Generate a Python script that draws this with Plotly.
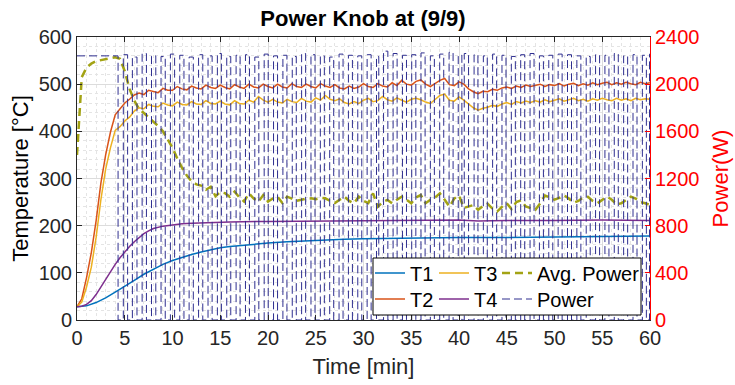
import plotly.graph_objects as go

# ---------------- data ----------------
STEP = 0.5  # min, sampling of T2 / T3 / Avg. Power
T2 = [28, 45, 90, 143, 210, 290, 350, 398, 435, 447,
      460, 468, 477, 481, 478, 487, 484, 482, 491, 487,
      487, 495, 490, 488, 496, 492, 490, 498, 493, 491,
      498, 493, 490, 499, 494, 491, 500, 494, 492, 500,
      495, 492, 500, 494, 492, 501, 495, 493, 500, 495,
      492, 501, 496, 493, 499, 492, 490, 496, 491, 494,
      501, 495, 493, 501, 496, 494, 503, 497, 508, 500,
      498, 506, 509, 500, 495, 501, 508, 512, 499, 497,
      505, 500, 490, 484, 480, 485, 484, 489, 487, 492,
      494, 491, 496, 493, 498, 495, 497, 500, 495, 499,
      497, 501, 496, 500, 502, 497, 501, 498, 503, 499,
      502, 504, 499, 503, 500, 504, 501, 499, 504, 501,
      503]
T3 = [28, 38, 70, 112, 175, 255, 320, 365, 402, 410,
      422, 430, 443, 450, 448, 457, 453, 452, 460, 456,
      454, 462, 457, 456, 463, 458, 457, 465, 459, 458,
      464, 458, 456, 465, 459, 458, 466, 462, 474, 466,
      462, 468, 462, 460, 468, 463, 461, 470, 464, 462,
      471, 466, 476, 468, 465, 469, 461, 458, 463, 459,
      466, 470, 463, 465, 474, 467, 464, 471, 466, 462,
      468, 470, 467, 462, 459, 468, 476, 479, 466, 464,
      473, 466, 457, 450, 445, 449, 451, 455, 453, 458,
      461, 457, 463, 460, 464, 461, 465, 462, 467, 463,
      466, 469, 464, 467, 470, 465, 468, 464, 469, 466,
      470, 467, 465, 470, 466, 469, 465, 470, 467, 469,
      468]
AVG_POWER = [1400, 2060, 2140, 2175, 2195, 2205, 2212, 2220, 2228, 2215,
             2110, 1960, 1860, 1790, 1755, 1720, 1685, 1645, 1600, 1530,
             1460, 1370, 1290, 1225, 1175, 1150, 1140, 1105, 1130, 1050,
             1085, 1075, 1045, 1088, 1040, 1005, 1074, 1030, 1003, 1060,
             1005, 1030, 1046, 992, 1046, 1030, 1010, 1020, 1030, 1032,
             1025, 1035, 1032, 1010, 992, 1020, 1046, 1010, 990, 1046,
             1010, 992, 1074, 961, 1000, 1018, 990, 1020, 1046, 1020,
             990, 1040, 1060, 990, 1020, 1040, 1074, 1020, 961, 1030,
             1055, 950, 965, 975, 935, 965, 985, 945, 920, 960,
             990, 940, 1000, 1015, 962, 950, 935, 990, 1055, 1040,
             1020, 1035, 1058, 1030, 995, 1010, 1040, 1045, 1010, 990,
             1015, 1046, 1020, 980, 990, 1020, 1046, 1030, 1000, 990,
             975]

T1_TIME = [0, 1, 2, 3, 4, 5, 6, 7, 8, 9, 10, 11, 12, 13, 14, 15, 16, 17, 18, 19,
           20, 22, 24, 26, 28, 30, 33, 36, 40, 45, 50, 55, 60]
T1 = [28, 30, 37, 47, 59, 71, 84, 97, 108, 118, 126, 133, 139, 144, 149, 153, 156, 158, 160, 162,
      163, 166, 168, 170, 171, 172, 173, 174, 175, 175, 176, 177, 178]

T4_TIME = [0, 0.5, 1, 1.5, 2, 2.5, 3, 3.5, 4, 4.5, 5, 5.5, 6, 6.5, 7, 7.5, 8, 9, 10, 11,
           12, 14, 16, 20, 25, 30, 35, 40, 42, 45, 50, 55, 60]
T4 = [28, 29, 33, 41, 54, 70, 88, 104, 118, 132, 145, 156, 166, 175, 183, 189, 194, 199, 202, 204,
      205, 207, 208, 209, 210, 211, 212, 212, 210, 211, 211, 212, 211]

# on/off switching of the heater power (min) and the "on" level of each cycle (W)
POWER_START_LEVEL = 2240
POWER_OFF_TIMES = [4.30, 5.30, 6.28, 7.27, 8.25, 9.24, 10.22, 11.20, 12.18, 13.17,
                   14.15, 15.12, 16.10, 17.08, 18.06, 19.04, 20.02, 21.00, 21.98, 22.96,
                   23.94, 24.92, 25.90, 26.88, 27.86, 28.84, 29.82, 30.80, 31.60, 32.55,
                   33.52, 34.50, 35.48, 36.45, 37.42, 38.40, 39.38, 40.30, 41.00, 41.98,
                   42.96, 43.94, 44.92, 45.90, 46.88, 47.86, 48.84, 49.82, 50.80, 51.78,
                   52.76, 53.74, 54.72, 55.70, 56.68, 57.66, 58.64, 59.62]
POWER_ON_TIMES = [4.85, 5.80, 6.82, 7.80, 8.80, 9.78, 10.76, 11.74, 12.73, 13.72,
                  14.70, 15.68, 16.66, 17.64, 18.62, 19.60, 20.58, 21.56, 22.54, 23.52,
                  24.50, 25.48, 26.46, 27.44, 28.42, 29.40, 30.38, 31.36, 32.10, 33.10,
                  34.08, 35.05, 36.02, 37.00, 37.98, 38.96, 39.92, 40.55, 41.58, 42.55,
                  43.52, 44.50, 45.48, 46.46, 47.44, 48.42, 49.40, 50.38, 51.36, 52.34,
                  53.32, 54.30, 55.28, 56.26, 57.24, 58.22, 59.20, 59.95]
POWER_ON_LEVELS = [2250, 2230, 2260, 2240, 2235, 2255, 2245, 2230, 2250, 2240,
                   2260, 2235, 2245, 2250, 2230, 2255, 2240, 2245, 2235, 2260,
                   2250, 2240, 2230, 2255, 2245, 2240, 2250, 2235, 2280, 2260,
                   2245, 2250, 2265, 2240, 2255, 2270, 2245, 2260, 2250, 2240,
                   2255, 2245, 2235, 2250, 2260, 2240, 2245, 2255, 2250, 2240,
                   2235, 2250, 2245, 2260, 2240, 2250, 2245, 2255]
T_END = 60

X_TICKS = list(range(0, 61, 5))
Y_TICKS = list(range(0, 601, 100))
Y2_TICKS = list(range(0, 2401, 400))

# ---------------- derived tables ----------------
t_half = [i * STEP for i in range(len(T2))]

p_x, p_y = [0], [POWER_START_LEVEL]
level = POWER_START_LEVEL
for t_off, t_on, lv in zip(POWER_OFF_TIMES, POWER_ON_TIMES, POWER_ON_LEVELS):
    p_x += [t_off, t_off]
    p_y += [level, 0]
    level = lv
    p_x += [t_on, t_on]
    p_y += [0, level]
p_x.append(T_END)
p_y.append(level)

# ---------------- figure ----------------
FONT = "Liberation Sans, Arial, Helvetica, sans-serif"
DARK = "#262626"
RED = "#FF0000"

fig = go.Figure()
fig.add_trace(go.Scatter(x=T1_TIME, y=T1, name="T1", mode="lines",
                         line=dict(color="#0072BD", width=1.5), legend="legend"))
fig.add_trace(go.Scatter(x=t_half, y=T2, name="T2", mode="lines",
                         line=dict(color="#D95319", width=1.5), legend="legend2"))
fig.add_trace(go.Scatter(x=t_half, y=T3, name="T3", mode="lines",
                         line=dict(color="#EDB120", width=1.5), legend="legend3"))
fig.add_trace(go.Scatter(x=T4_TIME, y=T4, name="T4", mode="lines",
                         line=dict(color="#7E2F8E", width=1.5), legend="legend4"))
fig.add_trace(go.Scatter(x=t_half, y=AVG_POWER, name="Avg. Power", mode="lines", yaxis="y2",
                         line=dict(color="#A3A314", width=2.5, dash="8px,5px"), legend="legend5"))
fig.add_trace(go.Scatter(x=p_x, y=p_y, name="Power", mode="lines", yaxis="y2",
                         line=dict(color="#2E2E8F", width=1, dash="8px,4px"), legend="legend6"))

PL, PR, PT, PB = 77, 85, 37, 65
W, H = 735, 385
pw, ph = W - PL - PR, H - PT - PB


def px2x(px):
    return (px - PL) / pw


def py2y(py):
    return (H - PB - py) / ph


leg_common = dict(bgcolor="rgba(0,0,0,0)", borderwidth=0, xanchor="left", yanchor="middle",
                  font=dict(family=FONT, size=20, color="#000000"), itemwidth=30,
                  itemclick=False, itemdoubleclick=False)
col_x = [370, 434, 497]
row_y = [273, 299]
fig.update_layout(
    legend=dict(x=px2x(col_x[0]), y=py2y(row_y[0]), **leg_common),
    legend2=dict(x=px2x(col_x[0]), y=py2y(row_y[1]), **leg_common),
    legend3=dict(x=px2x(col_x[1]), y=py2y(row_y[0]), **leg_common),
    legend4=dict(x=px2x(col_x[1]), y=py2y(row_y[1]), **leg_common),
    legend5=dict(x=px2x(col_x[2]), y=py2y(row_y[0]), **leg_common),
    legend6=dict(x=px2x(col_x[2]), y=py2y(row_y[1]), **leg_common),
)

fig.add_shape(type="rect", xref="paper", yref="paper",
              x0=px2x(373), x1=px2x(641), y0=py2y(315), y1=py2y(258),
              fillcolor="white", line=dict(color="#000000", width=1), layer="above")

fig.update_layout(
    width=W, height=H,
    margin=dict(l=PL, r=PR, t=PT, b=PB, autoexpand=False),
    paper_bgcolor="white", plot_bgcolor="white",
    font=dict(family=FONT, color=DARK, size=20),
    showlegend=True,
    title=dict(text="<b>Power Knob at (9/9)</b>", x=363 / W, xanchor="center",
               y=1 - 18 / H, yanchor="middle",
               font=dict(family=FONT, size=22, color="#000000")),
    xaxis=dict(range=[0, 60], tickvals=X_TICKS, ticktext=[str(v) for v in X_TICKS],
               showline=True, linecolor=DARK, linewidth=1, mirror="ticks",
               ticks="inside", ticklen=5, tickcolor=DARK,
               showgrid=True, gridcolor="#dcdcdc", gridwidth=1, zeroline=False,
               minor=dict(dtick=1, showgrid=True, gridcolor="#e4e4e4", griddash="dot", ticks=""),
               tickfont=dict(size=20, color=DARK),
               title=dict(text="Time [min]", font=dict(size=22, color=DARK), standoff=10)),
    yaxis=dict(range=[0, 600], tickvals=Y_TICKS, ticktext=[str(v) for v in Y_TICKS],
               showline=True, linecolor=DARK, linewidth=1,
               ticks="inside", ticklen=5, tickcolor=DARK,
               showgrid=True, gridcolor="#dcdcdc", gridwidth=1, zeroline=False,
               minor=dict(dtick=20, showgrid=True, gridcolor="#e4e4e4", griddash="dot", ticks=""),
               tickfont=dict(size=20, color=DARK),
               title=dict(text="Temperature [°C]", font=dict(size=22, color="#000000"), standoff=3)),
    yaxis2=dict(range=[0, 2400], tickvals=Y2_TICKS, ticktext=[str(v) for v in Y2_TICKS],
                overlaying="y", side="right", anchor="x",
                showline=True, linecolor=RED, linewidth=1,
                ticks="inside", ticklen=5, tickcolor=RED,
                showgrid=False, zeroline=False,
                tickfont=dict(size=20, color=RED),
                title=dict(text="Power(W)", font=dict(size=22, color=RED), standoff=14)),
)

fig.write_html("out.html")
